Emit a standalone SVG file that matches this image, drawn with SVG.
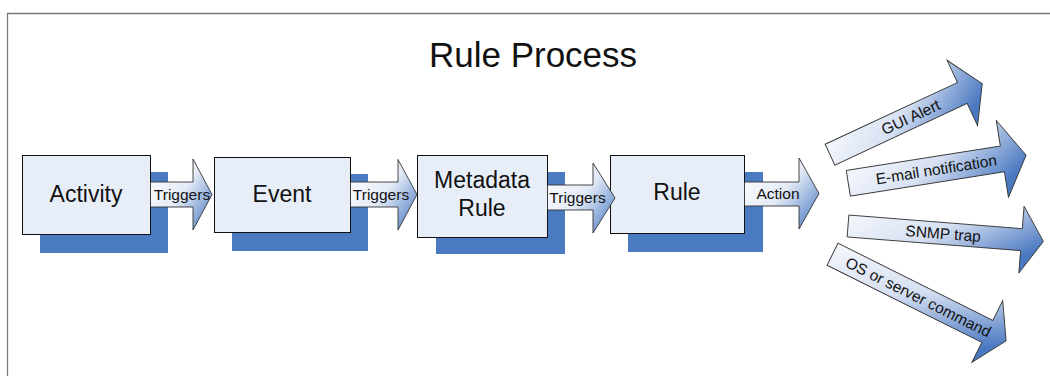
<svg xmlns="http://www.w3.org/2000/svg" width="1050" height="376" viewBox="0 0 1050 376">
<defs>
<linearGradient id="ag" x1="0" y1="0.1" x2="1" y2="0.9">
<stop offset="0" stop-color="#ffffff"/>
<stop offset="0.5" stop-color="#e4ebf7"/>
<stop offset="1" stop-color="#4d7cc3"/>
</linearGradient>
<linearGradient id="rg" x1="0" y1="0" x2="1" y2="0.6">
<stop offset="0" stop-color="#ffffff"/>
<stop offset="0.55" stop-color="#d6e0f2"/>
<stop offset="1" stop-color="#4a78c1"/>
</linearGradient>
</defs>
<style>
.frame{stroke:#7a7a7a;stroke-width:1.3;fill:none}
.shadow{fill:#4a7bc1}
.box{fill:#e8eef8;stroke:#111;stroke-width:1}
.arrow{fill:url(#ag);stroke:#333;stroke-width:0.9;stroke-linejoin:miter}
.rarrow{fill:url(#rg);stroke:#333;stroke-width:0.9}
.title{font-family:"Liberation Sans",Arial,sans-serif;font-size:35px;fill:#111;text-anchor:middle}
.nt{font-family:"Liberation Sans",Arial,sans-serif;font-size:23px;fill:#111;text-anchor:middle}
.lt{font-family:"Liberation Sans",Arial,sans-serif;font-size:15.5px;fill:#111;text-anchor:middle}
</style>
<rect width="1050" height="376" fill="#ffffff"/>
<path class="frame" d="M7.5,376 V13.5 H1050"/>
<text class="title" x="533" y="67">Rule Process</text>

<g id="activity">
<rect class="shadow" x="40" y="172" width="128" height="81"/>
<rect class="box" x="22.5" y="155.5" width="128" height="79"/>
<text class="nt" x="86" y="202">Activity</text>
</g>
<g id="event">
<rect class="shadow" x="232" y="174" width="136" height="77"/>
<rect class="box" x="214.5" y="157.5" width="136" height="75"/>
<text class="nt" x="282" y="202">Event</text>
</g>
<g id="metadata-rule">
<rect class="shadow" x="436" y="172" width="129" height="82"/>
<rect class="box" x="417.5" y="155.5" width="130" height="82"/>
<text class="nt" x="482" y="188">Metadata</text>
<text class="nt" x="482" y="216">Rule</text>
</g>
<g id="rule">
<rect class="shadow" x="628" y="172" width="135" height="80"/>
<rect class="box" x="610.5" y="155.5" width="134" height="78"/>
<text class="nt" x="677" y="200">Rule</text>
</g>

<g id="connectors">
<g id="c-activity-event">
<polygon class="arrow" points="150.5,182 193,182 193,159 212,194.5 193,230 193,207 150.5,207"/>
<text class="lt" x="182" y="200">Triggers</text>
</g>
<g id="c-event-metadata">
<polygon class="arrow" points="350.5,182 398,182 398,159.5 417,194.5 398,230 398,207 350.5,207"/>
<text class="lt" x="381" y="200">Triggers</text>
</g>
<g id="c-metadata-rule">
<polygon class="arrow" points="547.5,185 593,185 593,163 615,198 593,233 593,210 547.5,210"/>
<text class="lt" x="577.5" y="203">Triggers</text>
</g>
<g id="c-rule-action">
<polygon class="arrow" points="744.5,182 799,182 799,158 819,193.5 799,229 799,206 744.5,206"/>
<text class="lt" x="778" y="198.5">Action</text>
</g>
<g id="c-gui" transform="translate(830,154.7) rotate(-25)">
<polygon class="rarrow" points="0,-11.5 146,-11.5 146,-36 168,0 146,36 146,11.5 0,11.5"/>
<text class="lt" x="89" y="5.5">GUI Alert</text>
</g>
<g id="c-email" transform="translate(848.3,183.3) rotate(-9)">
<polygon class="rarrow" points="0,-13 156,-13 156,-39 180,0 156,39 156,13 0,13"/>
<text class="lt" x="89" y="5.5">E-mail notification</text>
</g>
<g id="c-snmp" transform="translate(848,226) rotate(4.5)">
<polygon class="rarrow" points="0,-11 174,-11 174,-33.5 196,0 174,33.5 174,11 0,11"/>
<text class="lt" x="95.5" y="5.5">SNMP trap</text>
</g>
<g id="c-os" transform="translate(832.5,254.2) rotate(26.5)">
<polygon class="rarrow" points="0,-12.3 173,-12.3 173,-34.5 194,0 173,34.5 173,12.3 0,12.3"/>
<text class="lt" x="96" y="5.5">OS or server command</text>
</g>
</g>
</svg>
